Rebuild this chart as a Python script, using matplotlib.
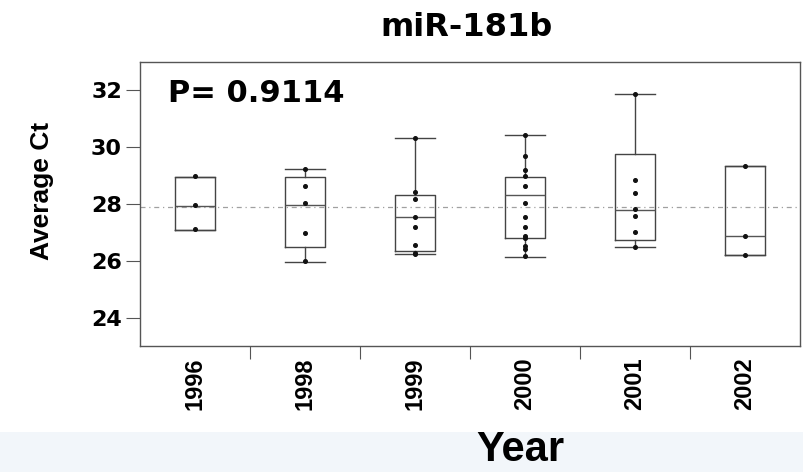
import matplotlib
matplotlib.use("Agg")
import matplotlib.pyplot as plt
from matplotlib.patches import Rectangle

# === data ===
years = ["1996", "1998", "1999", "2000", "2001", "2002"]

q1 = [27.08, 26.48, 26.34, 26.81, 26.75, 26.20]
medians = [27.92, 27.96, 27.54, 28.30, 27.78, 26.87]
q3 = [28.95, 28.95, 28.30, 28.95, 29.76, 29.33]
whisker_lo = [27.08, 25.96, 26.23, 26.15, 26.48, 26.20]
whisker_hi = [28.95, 29.23, 30.32, 30.44, 31.88, 29.33]

points = [
    [28.97, 27.96, 27.12],
    [29.25, 28.65, 28.02, 26.98, 25.98],
    [30.32, 28.41, 28.16, 27.55, 27.20, 26.57, 26.29, 26.24],
    [30.42, 29.68, 29.21, 28.98, 28.65, 28.04, 27.54, 27.20, 26.87, 26.80, 26.52, 26.40, 26.17],
    [31.86, 28.86, 28.37, 27.83, 27.57, 27.02, 26.50],
    [29.33, 26.87, 26.20],
]

grand_mean = 27.9
p_text = "P= 0.9114"

sans = ["Liberation Sans", "DejaVu Sans"]

fig = plt.figure(figsize=(8.04, 4.72), dpi=100)
fig.patches.append(Rectangle((0, 0), 1, 40 / 472, transform=fig.transFigure,
                             facecolor="#f2f6fa", edgecolor="none", zorder=0))

ax = fig.add_axes([140 / 804, 1 - 346 / 472, 660 / 804, 284 / 472])

positions = list(range(1, len(years) + 1))
stats = []
for i in range(len(years)):
    stats.append({"q1": q1[i], "med": medians[i], "q3": q3[i],
                  "whislo": whisker_lo[i], "whishi": whisker_hi[i], "fliers": []})

line_kw = dict(color="#444444", linewidth=1.0)
ax.bxp(stats, positions=positions, widths=0.36, showfliers=False,
       boxprops=line_kw, whiskerprops=line_kw, capprops=line_kw,
       medianprops=dict(color="#555555", linewidth=1.0), capwidths=0.36)

for pos, vals in zip(positions, points):
    ax.plot([pos] * len(vals), vals, "o", color="#111111", markersize=2.6,
            linestyle="none", zorder=3)

# overall mean line
ax.axhline(grand_mean, color="#a0a0a0", linewidth=0.9,
           linestyle=(0, (4, 3, 1, 3)), zorder=1)

ax.set_xlim(0.5, 6.5)
ax.set_ylim(23, 33)
ax.set_yticks([24, 26, 28, 30, 32])
ax.set_yticklabels(["24", "26", "28", "30", "32"], fontsize=16,
                   fontweight="bold", family="DejaVu Sans")
ax.tick_params(axis="y", length=10, width=0.8, color="#555555", pad=3)

ax.set_xticks(positions)
ax.set_xticklabels(years, rotation=90, fontsize=17, fontweight="bold",
                   family=sans)
ax.tick_params(axis="x", length=0, pad=8)
ax.set_xticks([1.5, 2.5, 3.5, 4.5, 5.5], minor=True)
ax.tick_params(axis="x", which="minor", length=9, width=0.8, color="#555555")

for side in ["left", "bottom", "right", "top"]:
    ax.spines[side].set_color("#555555")
    ax.spines[side].set_linewidth(1.0)

ax.text((168 - 140) / 660, 31.9, p_text, transform=ax.get_yaxis_transform(),
        fontsize=22, fontweight="bold", family="DejaVu Sans",
        ha="left", va="center")

fig.text(467 / 804, 1 - 27 / 472, "miR-181b", fontsize=23, fontweight="bold",
         family="DejaVu Sans", ha="center", va="center")
fig.text(42 / 804, 1 - 191 / 472, "Average Ct", rotation=90, fontsize=19,
         fontweight="bold", family=sans, ha="center", va="center")
fig.text(520 / 804, 1 - 450 / 472, "Year", fontsize=30, fontweight="bold",
         family=sans, ha="center", va="center")

fig.savefig("out.png", dpi=100)
